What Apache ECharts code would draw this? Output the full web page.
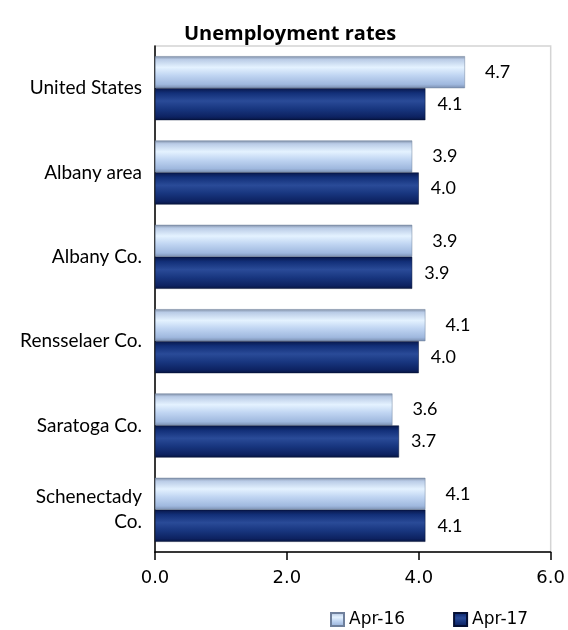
<!DOCTYPE html>
<html><head><meta charset="utf-8">
<script src="https://cdn.jsdelivr.net/npm/echarts@6/dist/echarts.min.js"></script>
<style>html,body{margin:0;padding:0;background:#fff}#c{width:568px;height:630px}</style>
</head><body><div id="c"></div>
<script>
var categories = ['United States', 'Albany area', 'Albany Co.', 'Rensselaer Co.', 'Saratoga Co.', 'Schenectady\nCo.'];
var apr16 = [4.7, 3.9, 3.9, 4.1, 3.6, 4.1];
var apr17 = [4.1, 4.0, 3.9, 4.0, 3.7, 4.1];
var xTicks = [0, 2, 4, 6];

var lightGrad = {type:'linear', x:0, y:0, x2:0, y2:1, colorStops:[
  {offset:0, color:'#7f8ea6'}, {offset:0.1, color:'#b9cbe6'}, {offset:0.35, color:'#e4f2ff'},
  {offset:0.6, color:'#c0d5f2'}, {offset:0.88, color:'#9fb8de'}, {offset:1, color:'#7b8fb0'}]};
var darkGrad = {type:'linear', x:0, y:0, x2:0, y2:1, colorStops:[
  {offset:0, color:'#08174a'}, {offset:0.15, color:'#122f78'}, {offset:0.4, color:'#2a4b98'},
  {offset:0.65, color:'#18367f'}, {offset:0.9, color:'#0d2261'}, {offset:1, color:'#061440'}]};

var chart = echarts.init(document.getElementById('c'));
chart.setOption({
  animation: false,
  title: {text: 'Unemployment rates', left: 179, top: 19,
    textStyle: {fontFamily: 'Open Sans', fontWeight: 'bold', fontSize: 20, color: '#000'}},
  grid: {left: 155, right: 17, top: 46, bottom: 78, show: true, borderColor: '#d4d4d4', borderWidth: 1.5},
  legend: {top: 606, left: 325, itemWidth: 13, itemHeight: 13, itemGap: 48, icon: 'rect',
    textStyle: {fontFamily: 'DejaVu Sans', fontSize: 17, color: '#000'},
    data: ['Apr-16', 'Apr-17']},
  xAxis: {type: 'value', min: 0, max: 6, interval: 2,
    axisLine: {show: true, lineStyle: {color: '#000', width: 1.5}},
    axisTick: {show: true, length: 8, lineStyle: {color: '#000', width: 1.5}},
    splitLine: {show: false},
    axisLabel: {fontFamily: 'DejaVu Sans', fontSize: 18, color: '#000', margin: 17,
      formatter: function(v){ return xTicks.indexOf(v) >= 0 ? v.toFixed(1) : ''; }}},
  yAxis: {type: 'category', data: categories, inverse: true,
    axisLine: {show: true, lineStyle: {color: '#000', width: 1.5}},
    axisTick: {show: false},
    axisLabel: {fontFamily: 'Lato', fontSize: 19, color: '#000', margin: 13, align: 'right', lineHeight: 25}},
  series: [
    {name: 'Apr-16', type: 'bar', data: apr16, barWidth: 32, barGap: '0%',
      itemStyle: {color: lightGrad, borderColor: '#6f809c', borderWidth: 0.5},
      label: {show: true, position: 'right', distance: 20, formatter: function(p){return p.value.toFixed(1);},
        fontFamily: 'Lato', fontSize: 18, color: '#000'}},
    {name: 'Apr-17', type: 'bar', data: apr17, barWidth: 32,
      itemStyle: {color: darkGrad, borderColor: '#051035', borderWidth: 0.5},
      label: {show: true, position: 'right', distance: 12, formatter: function(p){return p.value.toFixed(1);},
        fontFamily: 'Lato', fontSize: 18, color: '#000'}}
  ]
});
</script></body></html>
